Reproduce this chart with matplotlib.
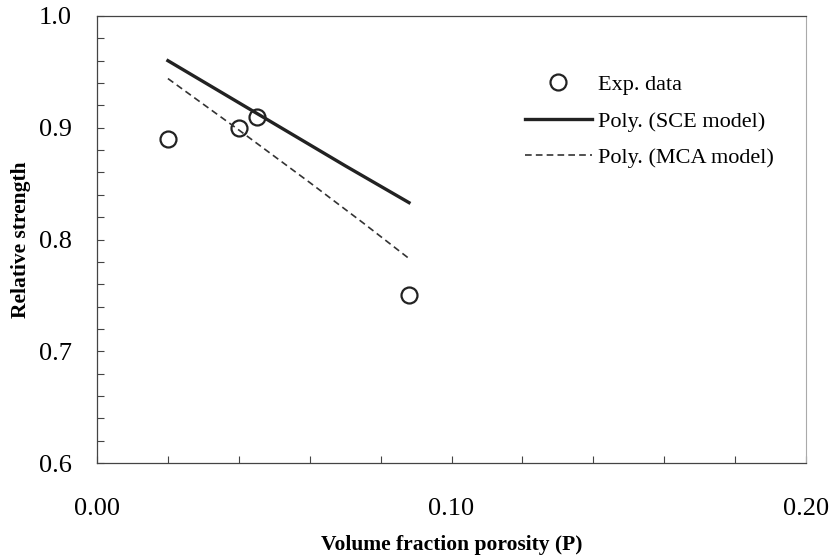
import matplotlib
matplotlib.use("Agg")
import matplotlib.pyplot as plt
from matplotlib.ticker import MultipleLocator, FormatStrFormatter

# experimental points
exp_p = [0.020, 0.040, 0.045, 0.088]
exp_strength = [0.89, 0.90, 0.91, 0.75]

# polynomial trend lines
sce_p = [0.020, 0.045, 0.070, 0.088]
sce_strength = [0.960, 0.913, 0.866, 0.833]

mca_p = [0.020, 0.040, 0.060, 0.075, 0.088]
mca_strength = [0.944, 0.898, 0.851, 0.815, 0.783]

plt.rcParams['font.family'] = ['Liberation Serif', 'DejaVu Serif']

fig = plt.figure(figsize=(8.35, 5.59), dpi=100)
ax = fig.add_axes([0.1162, 0.1717, 0.8491, 0.7997])

ax.plot(exp_p, exp_strength, linestyle='none', marker='o', markersize=11.5,
        markerfacecolor='none', markeredgecolor='#222222', markeredgewidth=1.6,
        label='Exp. data')
ax.plot(sce_p, sce_strength, color='#222222', linewidth=2.4,
        label='Poly. (SCE model)')
ax.plot(mca_p, mca_strength, color='#333333', linewidth=1.2,
        linestyle=(0, (4, 2.5)), label='Poly. (MCA model)')

ax.set_xlim(0.0, 0.2)
ax.set_ylim(0.6, 1.0)
ax.xaxis.set_major_locator(MultipleLocator(0.1))
ax.xaxis.set_minor_locator(MultipleLocator(0.02))
ax.yaxis.set_major_locator(MultipleLocator(0.1))
ax.yaxis.set_minor_locator(MultipleLocator(0.02))
ax.xaxis.set_major_formatter(FormatStrFormatter('%.2f'))
ax.yaxis.set_major_formatter(FormatStrFormatter('%.1f'))

ax.tick_params(axis='x', which='both', direction='in', length=5, width=0.8,
               color='#444444', top=False, labelsize=19, pad=25)
ax.tick_params(axis='y', which='both', direction='in', length=5, width=0.8,
               color='#444444', right=False, labelsize=19, pad=18)

for side in ['left', 'bottom', 'top']:
    ax.spines[side].set_color('#444444')
    ax.spines[side].set_linewidth(0.9)
ax.spines['right'].set_color('#aaaaaa')
ax.spines['right'].set_linewidth(0.8)

ax.set_xlabel('Volume fraction porosity (P)', fontsize=15.5, fontweight='bold',
              labelpad=11)
ax.set_ylabel('Relative strength', fontsize=15.5, fontweight='bold', labelpad=6)

ax.legend(loc='upper left', bbox_to_anchor=(0.6037, 0.869), frameon=False,
          fontsize=16, handlelength=3.0, handletextpad=0.3,
          labelspacing=0.72, borderpad=0, borderaxespad=0)

fig.savefig('out.png', dpi=100)
